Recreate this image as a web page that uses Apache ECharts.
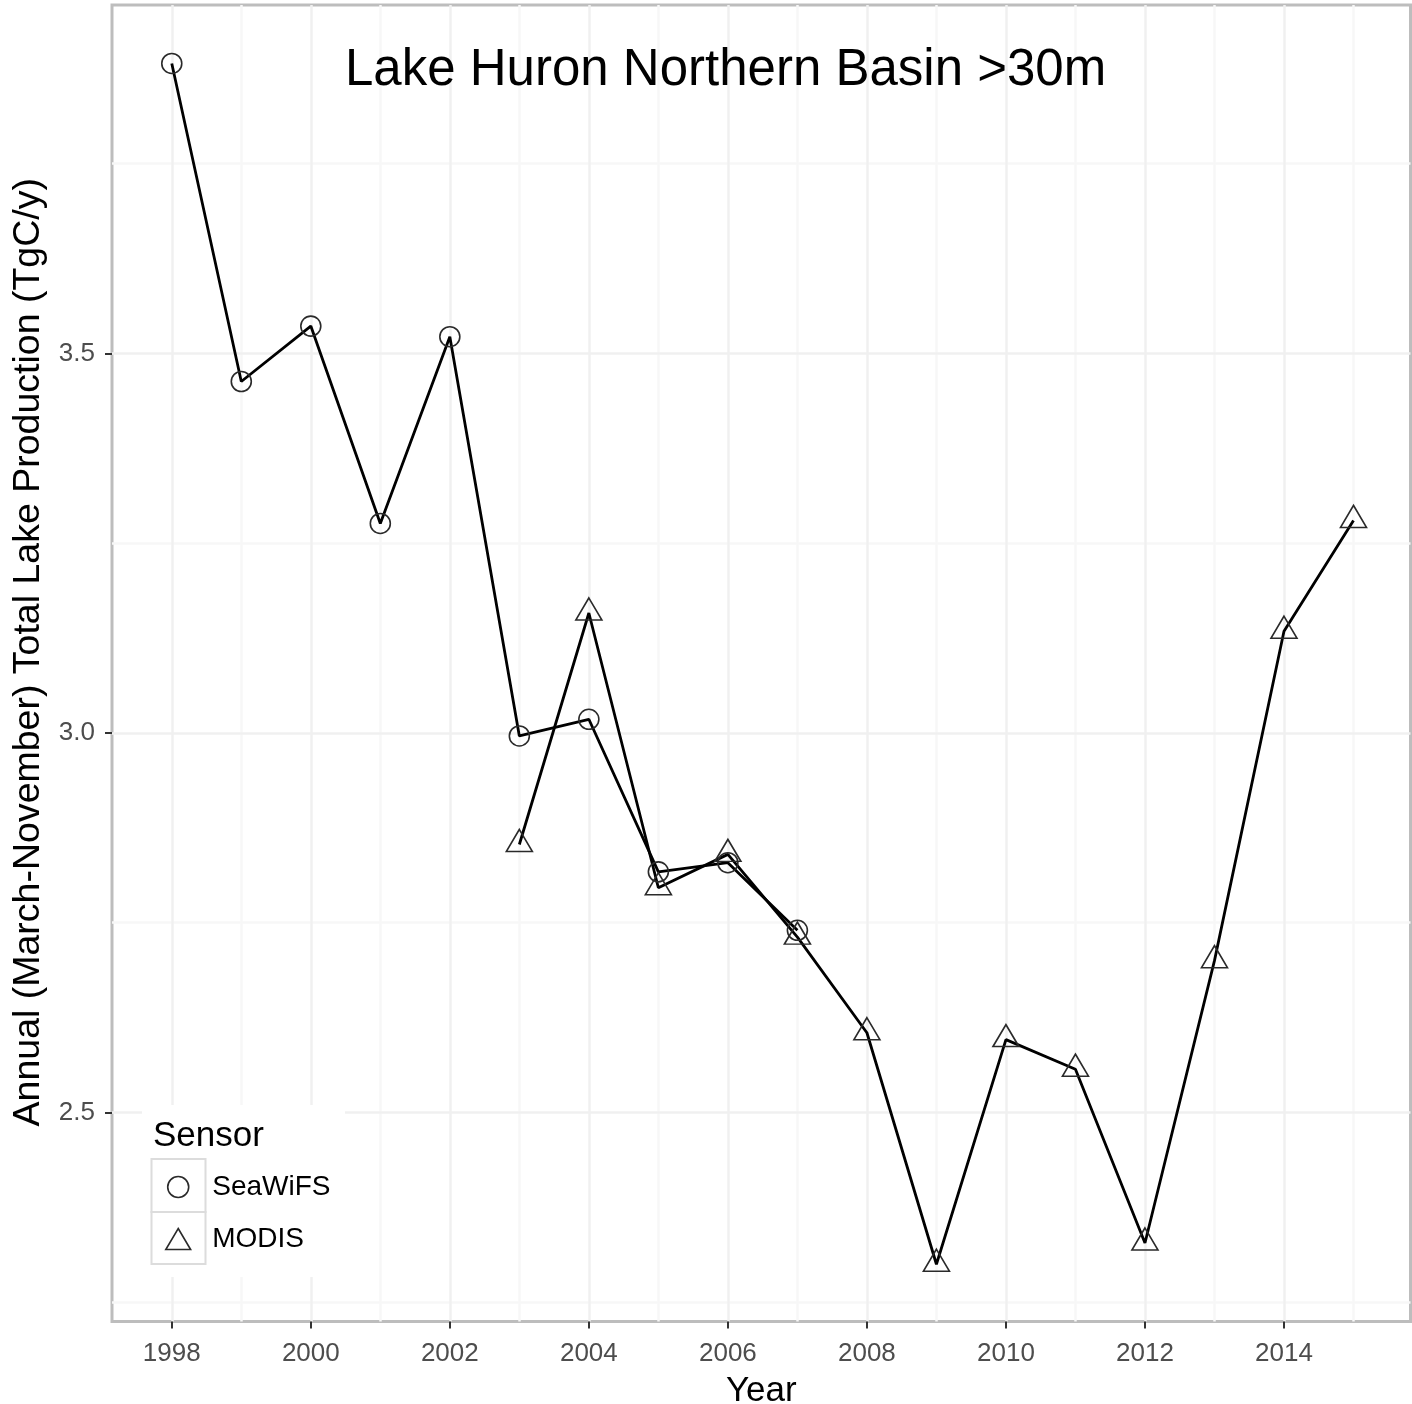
<!DOCTYPE html>
<html>
<head>
<meta charset="utf-8">
<script src="https://cdn.jsdelivr.net/npm/echarts@6/dist/echarts.min.js"></script>
<style>
html,body{margin:0;padding:0;background:#fff;}
#chart{width:1412px;height:1404px;}
</style>
</head>
<body>
<div id="chart"></div>
<script>
// ---- data ----
var seawifsYears = [1998, 1999, 2000, 2001, 2002, 2003, 2004, 2005, 2006, 2007];
var seawifsValues = [3.882, 3.463, 3.536, 3.276, 3.522, 2.996, 3.018, 2.817, 2.829, 2.740];
var modisYears = [2003, 2004, 2005, 2006, 2007, 2008, 2009, 2010, 2011, 2012, 2013, 2014, 2015];
var modisValues = [2.853, 3.158, 2.796, 2.840, 2.731, 2.605, 2.300, 2.596, 2.557, 2.328, 2.700, 3.134, 3.280];
var xMajorTicks = [1998, 2000, 2002, 2004, 2006, 2008, 2010, 2012, 2014];
var xMinorTicks = [1997, 1999, 2001, 2003, 2005, 2007, 2009, 2011, 2013, 2015];
var yMajorTicks = [2.5, 3.0, 3.5];
var yMinorTicks = [2.25, 2.75, 3.25, 3.75];
var chartTitle = 'Lake Huron Northern Basin >30m';
var xTitle = 'Year';
var yTitle = 'Annual (March-November) Total Lake Production (TgC/y)';
var legendTitle = 'Sensor';
var seriesNames = ['SeaWiFS', 'MODIS'];

function pairs(xs, ys) { return xs.map(function (x, i) { return [x, ys[i]]; }); }

var FONT = '"Liberation Sans", Arial, Helvetica, sans-serif';
var X_MIN = 1997.14, X_MAX = 2015.82, Y_MIN = 2.2246, Y_MAX = 3.959;

var chart = echarts.init(document.getElementById('chart'), null, {renderer: 'canvas'});
var option = {
  backgroundColor: '#ffffff',
  animation: false,
  title: [
    {text: chartTitle, left: 345, top: 45, padding: 0, z: 10,
     textStyle: {fontFamily: FONT, fontSize: 51, fontWeight: 'normal', color: '#000'}},
    {text: legendTitle, left: 153, top: 1119, padding: 0, z: 10,
     textStyle: {fontFamily: FONT, fontSize: 35, fontWeight: 'normal', color: '#000'}}
  ],
  grid: {left: 112, top: 5, width: 1298.5, height: 1316.5, show: true,
         containLabel: false, outerBoundsMode: 'none',
         borderColor: '#bdbdbd', borderWidth: 3, backgroundColor: 'transparent'},
  xAxis: [
    {type: 'value', min: X_MIN, max: X_MAX, gridIndex: 0, position: 'bottom',
     name: xTitle, nameLocation: 'middle', nameGap: 52,
     nameTextStyle: {fontFamily: FONT, fontSize: 35, color: '#000'},
     axisLine: {show: false},
     axisTick: {show: true, length: 7, customValues: xMajorTicks, lineStyle: {color: '#333', width: 2}},
     axisLabel: {show: true, customValues: xMajorTicks, margin: 19, fontFamily: FONT, fontSize: 26, color: '#4d4d4d',
                 formatter: function (v) { return String(Math.round(v)); }},
     splitLine: {show: true, lineStyle: {color: '#f0f0f0', width: 2.5}},
     z: 1},
    {type: 'value', min: X_MIN, max: X_MAX, gridIndex: 0, position: 'top',
     axisLine: {show: false},
     axisTick: {show: false, customValues: xMinorTicks},
     axisLabel: {show: false, customValues: xMinorTicks},
     splitLine: {show: true, lineStyle: {color: '#f7f7f7', width: 2.5}},
     z: 0}
  ],
  yAxis: [
    {type: 'value', min: Y_MIN, max: Y_MAX, gridIndex: 0, position: 'left',
     name: yTitle, nameLocation: 'middle', nameGap: 55, nameRotate: 90,
     nameTextStyle: {fontFamily: FONT, fontSize: 37.5, color: '#000', padding: [0, 0, 0, 22]},
     axisLine: {show: false},
     axisTick: {show: true, length: 7, customValues: yMajorTicks, lineStyle: {color: '#333', width: 2}},
     axisLabel: {show: true, customValues: yMajorTicks, margin: 17, fontFamily: FONT, fontSize: 26, color: '#4d4d4d',
                 formatter: function (v) { return v.toFixed(1); }},
     splitLine: {show: true, lineStyle: {color: '#f0f0f0', width: 2.5}},
     z: 1},
    {type: 'value', min: Y_MIN, max: Y_MAX, gridIndex: 0, position: 'right',
     axisLine: {show: false},
     axisTick: {show: false, customValues: yMinorTicks},
     axisLabel: {show: false, customValues: yMinorTicks},
     splitLine: {show: true, lineStyle: {color: '#f7f7f7', width: 2.5}},
     z: 0}
  ],
  legend: {
    show: true, orient: 'vertical', left: 165, top: 1173, padding: 0,
    itemWidth: 58, itemHeight: 21, itemGap: 24, selectedMode: false, z: 10,
    symbolKeepAspect: true,
    itemStyle: {color: 'transparent', borderColor: '#2a2a2a', borderWidth: 1.6},
    textStyle: {fontFamily: FONT, fontSize: 28, color: '#000'},
    data: [
      {name: seriesNames[0], icon: 'circle'},
      {name: seriesNames[1], icon: 'path://M13,0L26,22L0,22Z'}
    ]
  },
  graphic: [
    {type: 'rect', z: 3, z2: 0, shape: {x: 142, y: 1105, width: 203, height: 172},
     style: {fill: '#ffffff', stroke: null}},
    {type: 'rect', z: 3, z2: 1, shape: {x: 151.5, y: 1159, width: 54, height: 53},
     style: {fill: '#ffffff', stroke: '#dcdcdc', lineWidth: 2}},
    {type: 'rect', z: 3, z2: 1, shape: {x: 151.5, y: 1212, width: 54, height: 52},
     style: {fill: '#ffffff', stroke: '#dcdcdc', lineWidth: 2}}
  ],
  series: [
    {name: seriesNames[0], type: 'line', xAxisIndex: 0, yAxisIndex: 0,
     data: pairs(seawifsYears, seawifsValues),
     symbol: 'circle', symbolSize: 20, showSymbol: true,
     lineStyle: {color: '#000', width: 2.8},
     itemStyle: {color: 'transparent', borderColor: '#2a2a2a', borderWidth: 1.6},
     emphasis: {disabled: true}, z: 3},
    {name: seriesNames[1], type: 'line', xAxisIndex: 0, yAxisIndex: 0,
     data: pairs(modisYears, modisValues),
     symbol: 'triangle', symbolSize: [26, 22], symbolOffset: [0, -4], showSymbol: true,
     lineStyle: {color: '#000', width: 2.8},
     itemStyle: {color: 'transparent', borderColor: '#2a2a2a', borderWidth: 1.6},
     emphasis: {disabled: true}, z: 3}
  ]
};
chart.setOption(option);
</script>
</body>
</html>
